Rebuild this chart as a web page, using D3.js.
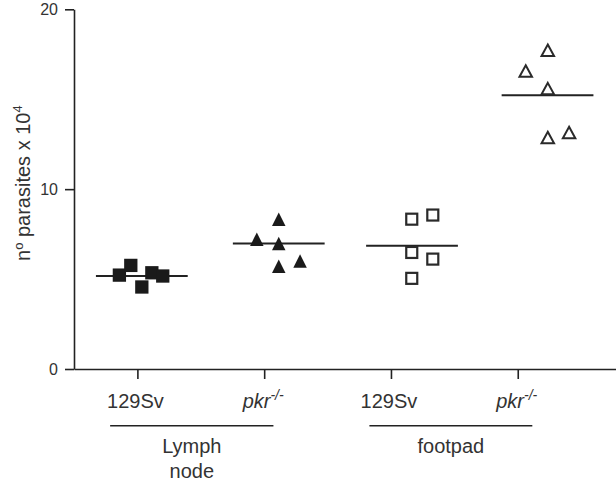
<!DOCTYPE html>
<html><head><meta charset="utf-8">
<script src="https://cdn.jsdelivr.net/npm/d3@7"></script>
<style>
html,body{margin:0;padding:0;background:#fff;}
svg{display:block;font-family:"Liberation Sans",Arial,sans-serif;}
</style></head>
<body>
<svg id="chart" width="616" height="487"></svg>
<script>
// ---- data ----
const categories = ["129Sv", "pkr", "129Sv", "pkr"];
const categoryItalic = [false, true, false, true];
const tickPositions = [1, 2, 3, 4];
const yTicks = [0, 10, 20];

const lnWtX = [0.858, 0.948, 1.035, 1.114, 1.200];
const lnWtY = [5.22, 5.76, 4.56, 5.35, 5.17];
const lnKoX = [2.115, 1.942, 2.115, 2.115, 2.283];
const lnKoY = [8.32, 7.22, 6.98, 5.72, 6.00];
const fpWtX = [3.164, 3.330, 3.164, 3.330, 3.164];
const fpWtY = [8.33, 8.56, 6.48, 6.11, 5.04];
const fpKoX = [4.237, 4.063, 4.237, 4.237, 4.405];
const fpKoY = [17.72, 16.57, 15.59, 12.87, 13.15];

const meanCenters = [1.035, 2.115, 3.166, 4.235];
const meanValues = [5.17, 6.98, 6.85, 15.22];
const meanHalfWidth = 0.362;

const groupNames = [["Lymph", "node"], ["footpad"]];
const groupExtents = [[0.785, 2.073], [2.830, 4.115]];

// ---- setup ----
const svg = d3.select("#chart");
const ink = "#222";
const textCol = "#333";
const xs = d3.scaleLinear().domain([0.5, 4.775]).range([74, 616]);
const ys = d3.scaleLinear().domain([0, 20]).range([369, 9.3]);

// y axis
const yAxis = svg.append("g").attr("transform", `translate(${xs(0.5)},0)`)
  .call(d3.axisLeft(ys).tickValues(yTicks).tickSize(9).tickSizeOuter(0).tickPadding(7));
yAxis.selectAll("path,line").attr("stroke", ink).attr("stroke-width", 1.6);
yAxis.selectAll("text").attr("font-size", 16).attr("fill", textCol)
  .attr("font-family", "Liberation Sans, Arial, sans-serif");

// x axis
const xAxis = svg.append("g").attr("transform", `translate(0,${ys(0)})`)
  .call(d3.axisBottom(xs).tickValues(tickPositions).tickSize(10).tickSizeOuter(0).tickFormat(""));
xAxis.selectAll("path,line").attr("stroke", ink).attr("stroke-width", 1.6);

// x tick labels
tickPositions.forEach((p, i) => {
  const t = svg.append("text").attr("x", xs(p) - 2).attr("y", 408)
    .attr("text-anchor", "middle").attr("font-size", 20).attr("fill", textCol);
  if (categoryItalic[i]) {
    t.attr("x", xs(p) - 1);
    t.append("tspan").attr("font-style", "italic").text(categories[i]);
    t.append("tspan").attr("font-style", "italic").attr("font-size", 14)
      .attr("dy", -8).text("-/-");
  } else {
    t.text(categories[i]);
  }
});

// group lines and labels
groupExtents.forEach((ext, i) => {
  svg.append("line").attr("x1", xs(ext[0])).attr("x2", xs(ext[1]))
    .attr("y1", 425.7).attr("y2", 425.7).attr("stroke", ink).attr("stroke-width", 1.6);
  const cx = (xs(ext[0]) + xs(ext[1])) / 2;
  groupNames[i].forEach((line, j) => {
    svg.append("text").attr("x", cx).attr("y", 452.5 + j * 25.5)
      .attr("text-anchor", "middle").attr("font-size", 20).attr("fill", textCol).text(line);
  });
});

// y axis title
const yt = svg.append("text").attr("transform", "rotate(-90)")
  .attr("x", -(ys(0) + ys(20)) / 2 + 6).attr("y", 30)
  .attr("text-anchor", "middle").attr("font-size", 20).attr("fill", textCol);
yt.append("tspan").text("n");
yt.append("tspan").attr("font-size", 13).attr("dy", -7).text("o");
yt.append("tspan").attr("dy", 7).text(" parasites x 10");
yt.append("tspan").attr("font-size", 13).attr("dy", -8).text("4");

// mean lines
meanCenters.forEach((c, i) => {
  svg.append("line").attr("x1", xs(c - meanHalfWidth)).attr("x2", xs(c + meanHalfWidth))
    .attr("y1", ys(meanValues[i])).attr("y2", ys(meanValues[i]))
    .attr("stroke", ink).attr("stroke-width", 2);
});

// marks
const zip = (a, b) => a.map((v, i) => ({x: v, y: b[i]}));
function squares(data, size, filled) {
  svg.append("g").selectAll("rect").data(data).join("rect")
    .attr("x", d => xs(d.x) - size / 2).attr("y", d => ys(d.y) - size / 2)
    .attr("width", size).attr("height", size)
    .attr("fill", filled ? "#1a1a1a" : "#fff")
    .attr("stroke", filled ? "none" : "#2a2a2a").attr("stroke-width", filled ? 0 : 2.2);
}
function triangles(data, w, h, filled) {
  svg.append("g").selectAll("path").data(data).join("path")
    .attr("d", d => {
      const cx = xs(d.x), cy = ys(d.y);
      const p = d3.path();
      p.moveTo(cx, cy - h / 2); p.lineTo(cx + w / 2, cy + h / 2); p.lineTo(cx - w / 2, cy + h / 2); p.closePath();
      return p.toString();
    })
    .attr("fill", filled ? "#1a1a1a" : "#fff")
    .attr("stroke", filled ? "none" : "#2a2a2a").attr("stroke-width", filled ? 0 : 2)
    .attr("stroke-linejoin", "miter");
}
squares(zip(lnWtX, lnWtY), 13.3, true);
triangles(zip(lnKoX, lnKoY), 13.5, 13.5, true);
squares(zip(fpWtX, fpWtY), 11, false);
triangles(zip(fpKoX, fpKoY), 12.5, 11.5, false);
</script>
</body></html>
